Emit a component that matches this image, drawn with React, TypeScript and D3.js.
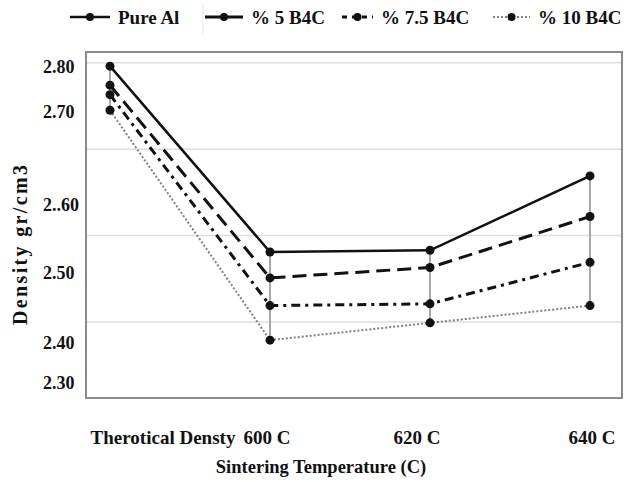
import * as d3 from "d3";

// categories and series
const categories = ["Therotical Densty", "600 C", "620 C", "640 C"];
const seriesNames = ["Pure Al", "% 5 B4C", "% 7.5 B4C", "% 10 B4C"];
const pureAl = [2.796, 2.581, 2.583, 2.669];
const b4c5 = [2.774, 2.551, 2.563, 2.622];
const b4c75 = [2.763, 2.519, 2.521, 2.569];
const b4c10 = [2.745, 2.479, 2.499, 2.519];
const gridValues = [2.5, 2.6, 2.7, 2.8];
// the printed tick labels do not sit on the grid lines in the original
const yTickValues = [2.8, 2.7, 2.6, 2.5, 2.4, 2.3];
const yTickLabels = ["2.80", "2.70", "2..60", "2.50", "2.40", "2.30"];

const W = 632;
const H = 482;
const box = { left: 86, right: 622, top: 52, bottom: 398 };
const font = "'Liberation Serif', 'Times New Roman', 'DejaVu Serif', serif";

const styles = [
  { stroke: "#111", width: 2.5, dash: "none" },
  { stroke: "#111", width: 3, dash: "14 7" },
  { stroke: "#111", width: 3, dash: "9 5 3 5" },
  { stroke: "#808080", width: 2, dash: "2 2" },
];
const legendX = [70, 205, 342, 493];
const legendW = [40, 38, 31, 37];
const xLabelShift = [53, -3, -13, 2];

export default function App() {
  const series = [pureAl, b4c5, b4c75, b4c10];

  const x = d3.scalePoint<string>().domain(categories).range([110, 590]);
  const y = d3.scaleLinear().domain([2.5, 2.8]).range([322, 62.7]);
  const yLab = d3
    .scaleLinear()
    .domain([2.3, 2.4, 2.5, 2.6, 2.7, 2.8])
    .range([383, 343, 273, 205, 112, 67]);

  const line = d3
    .line<number>()
    .x((_, i) => x(categories[i])!)
    .y((d) => y(d));

  return (
    <svg
      width={W}
      height={H}
      style={{ position: "absolute", left: 0, top: 0, background: "#fff", fontFamily: font, fontWeight: "bold" }}
    >
      <rect width={W} height={H} fill="#fff" />

      {/* legend */}
      <g>
        {seriesNames.map((name, i) => {
          const s = styles[i];
          const lx = legendX[i];
          return (
            <g key={name}>
              <line
                x1={lx}
                x2={lx + legendW[i]}
                y1={17}
                y2={17}
                stroke={s.stroke}
                strokeWidth={s.width}
                strokeDasharray={i === 2 ? "5 5" : i === 3 ? "2 2" : "none"}
              />
              <circle cx={lx + legendW[i] / 2} cy={17} r={4} fill="#111" />
              <text x={lx + legendW[i] + 8} y={23.5} fontSize={19} fill="#111">
                {name}
              </text>
            </g>
          );
        })}
        <line x1={203} x2={203} y1={4} y2={34} stroke="#e4e4e4" strokeWidth={1} />
      </g>

      {/* grid */}
      {gridValues.map((v) => (
        <line
          key={v}
          x1={box.left}
          x2={box.right}
          y1={y(v)}
          y2={y(v)}
          stroke="#dedede"
          strokeWidth={1.5}
        />
      ))}

      {/* plot frame */}
      <rect
        x={box.left}
        y={box.top}
        width={box.right - box.left}
        height={box.bottom - box.top}
        fill="none"
        stroke="#8a8a8a"
        strokeWidth={2}
      />

      {/* high-low lines */}
      {categories.map((c, i) => {
        const vals = series.map((s) => s[i]);
        return (
          <line
            key={c}
            x1={x(c)}
            x2={x(c)}
            y1={y(d3.max(vals)!)}
            y2={y(d3.min(vals)!)}
            stroke="#a8a8a8"
            strokeWidth={2}
          />
        );
      })}

      {/* series */}
      {series.map((s, i) => (
        <path
          key={seriesNames[i]}
          d={line(s)!}
          fill="none"
          stroke={styles[i].stroke}
          strokeWidth={styles[i].width}
          strokeDasharray={styles[i].dash}
        />
      ))}
      {series.map((s, i) =>
        s.map((v, j) => (
          <circle key={`${i}-${j}`} cx={x(categories[j])} cy={y(v)} r={4.5} fill="#111" />
        ))
      )}

      {/* y tick labels */}
      {yTickValues.map((v, i) => (
        <text key={v} x={43} y={yLab(v)} dy="0.35em" fontSize={18} fill="#111">
          {yTickLabels[i]}
        </text>
      ))}

      {/* x tick labels */}
      {categories.map((c, i) => (
        <text
          key={c}
          x={x(c)! + xLabelShift[i]}
          y={437}
          dy="0.35em"
          textAnchor="middle"
          fontSize={19}
          fill="#111"
        >
          {c}
        </text>
      ))}

      {/* axis titles */}
      <text x={321} y={467} dy="0.35em" textAnchor="middle" fontSize={18.5} fill="#111">
        Sintering Temperature (C)
      </text>
      <text
        transform="translate(20,245) rotate(-90)"
        dy="0.35em"
        textAnchor="middle"
        fontSize={20}
        textLength={160}
        lengthAdjust="spacing"
        fill="#111"
      >
        Density gr/cm3
      </text>
    </svg>
  );
}
